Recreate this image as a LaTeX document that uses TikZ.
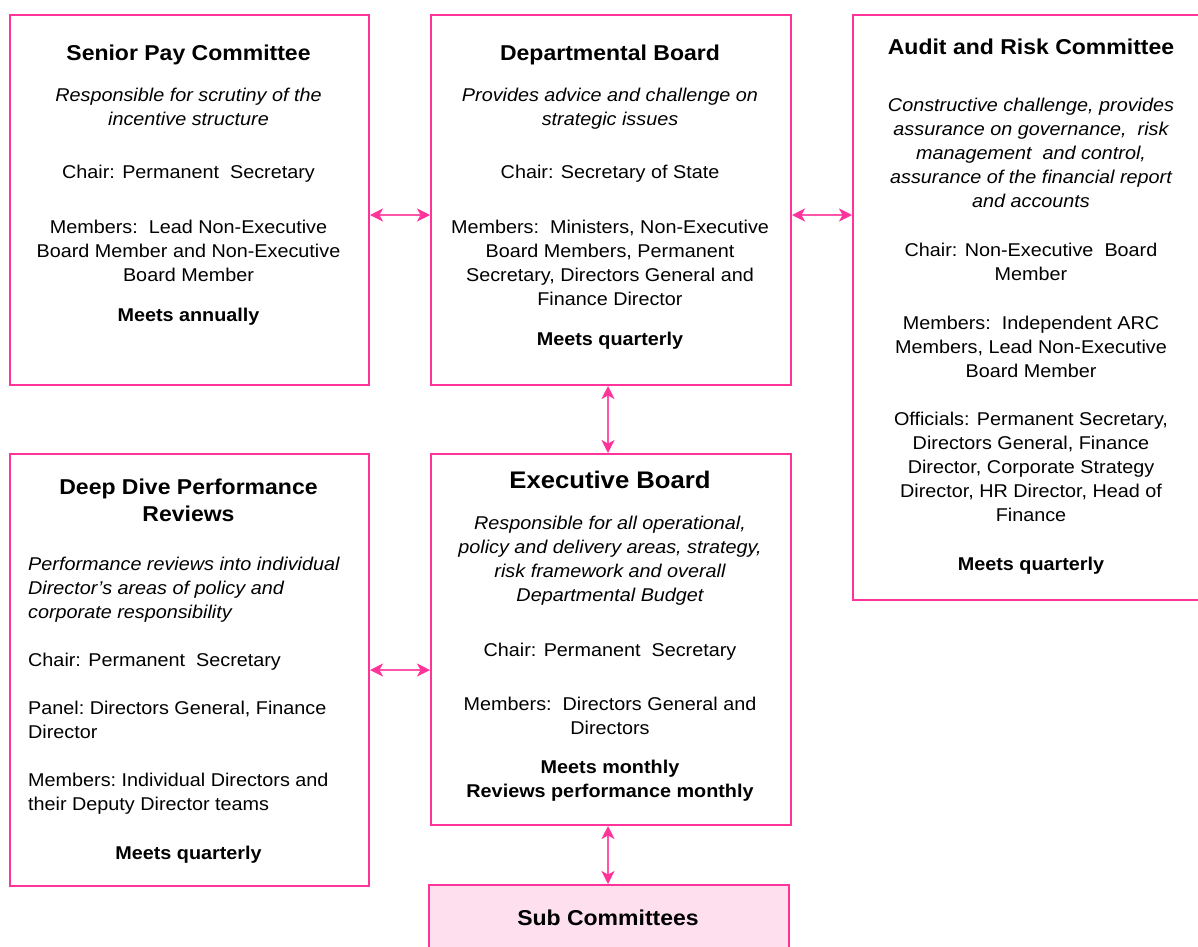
\documentclass[tikz,border=0pt]{standalone}
\usepackage{fontspec}
\setmainfont{Liberation Sans}[FakeStretch=1.07]
\usetikzlibrary{arrows.meta}
\definecolor{boxpink}{RGB}{255,51,153}
\definecolor{arrpink}{RGB}{255,85,170}
\definecolor{subfill}{RGB}{253,223,238}
\tikzset{
  box/.style={draw=boxpink, line width=2pt, rectangle, inner sep=0pt, anchor=north west},
  body/.style={inner sep=0pt, align=center, anchor=north, font=\fontsize{18.5}{24}\selectfont},
  bodyl/.style={inner sep=0pt, align=left, anchor=north west, font=\fontsize{18.5}{24}\selectfont},
  ital/.style={body, font=\fontsize{18.5}{24}\selectfont\itshape},
  itall/.style={bodyl, font=\fontsize{18.5}{24}\selectfont\itshape},
  meets/.style={body, font=\fontsize{18.5}{24}\selectfont\bfseries},
  ttl/.style={inner sep=0pt, align=center, anchor=north, font=\fontsize{21.5}{27}\selectfont\bfseries},
  conn/.style={draw=arrpink, line width=1.6pt, {Stealth[length=13pt,width=13pt,inset=3.5pt,color=boxpink]}-{Stealth[length=13pt,width=13pt,inset=3.5pt,color=boxpink]}},
}
\begin{document}
\begin{tikzpicture}[x=1pt,y=-1pt]
\useasboundingbox (0,0) rectangle (1198,946);
\clip (0,0) rectangle (1198,946);

% boxes
\node[box, minimum width=359pt, minimum height=370pt] (sp) at (9,14) {};
\node[box, minimum width=360pt, minimum height=370pt] (db) at (430,14) {};
\node[box, minimum width=360pt, minimum height=585pt] (arc) at (852,14) {};
\node[box, minimum width=359pt, minimum height=432pt] (dd) at (9,453) {};
\node[box, minimum width=360pt, minimum height=371pt] (eb) at (430,453) {};
\node[box, fill=subfill, minimum width=360pt, minimum height=80pt] (sc) at (428,884) {};

% Senior Pay Committee
\node[ttl] (spt) at (188.5,45) {Senior Pay Committee};
\node[ital] (spi) at (188.5,88) {Responsible for scrutiny of the\\incentive structure};
\node[body] (spc) at (188.5,165) {Chair: Permanent\ \ Secretary};
\node[body] (spm) at (188.5,220) {Members:\ \ Lead Non-Executive\\Board Member and Non-Executive\\Board Member};
\node[meets] (spx) at (188.5,308) {Meets annually};

% Departmental Board
\node[ttl] (dbt) at (610,45) {Departmental Board};
\node[ital] (dbi) at (610,88) {Provides advice and challenge on\\strategic issues};
\node[body] (dbc) at (610,165) {Chair: Secretary of State};
\node[body] (dbm) at (610,220) {Members:\ \ Ministers, Non-Executive\\Board Members,\ Permanent\\Secretary, Directors General\ and\\Finance Director};
\node[meets] (dbx) at (610,332) {Meets quarterly};

% Audit and Risk Committee
\node[ttl] (arct) at (1031,39) {Audit and Risk Committee};
\node[ital] (arci) at (1031,98) {Constructive challenge,\ provides\\assurance on governance,\ \ risk\\management\ \ and control,\\assurance of the financial report\\and accounts};
\node[body] (arcc) at (1031,243) {Chair: Non-Executive\ \ Board\\Member};
\node[body] (arcm) at (1031,316) {Members:\ \ Independent\ ARC\\Members,\ Lead Non-Executive\\Board Member};
\node[body] (arco) at (1031,412) {Officials: Permanent Secretary,\\Directors General,\ Finance\\Director, Corporate Strategy\\Director, HR Director, Head\ of\\Finance};
\node[meets] (arcx) at (1031,557) {Meets quarterly};

% Deep Dive Performance Reviews
\node[ttl] (ddt) at (188.5,479) {Deep Dive Performance\\Reviews};
\node[itall] (ddi) at (28,557) {Performance reviews into individual\\Director’s areas of policy and\\corporate responsibility};
\node[bodyl] (ddc) at (28,653) {Chair: Permanent\ \ Secretary};
\node[bodyl] (ddp) at (28,701) {Panel:\ Directors General,\ Finance\\Director};
\node[bodyl] (ddm) at (28,773) {Members:\ Individual\ Directors and\\their Deputy\ Director teams};
\node[meets] (ddx) at (188.5,846) {Meets quarterly};

% Executive Board
\node[ttl, font=\fontsize{24}{28}\selectfont\bfseries] (ebt) at (610,471) {Executive Board};
\node[ital] (ebi) at (610,516) {Responsible for all operational,\\policy and\ delivery areas,\ strategy,\\risk framework and\ overall\\Departmental Budget};
\node[body] (ebc) at (610,643) {Chair: Permanent\ \ Secretary};
\node[body] (ebm) at (610,697) {Members:\ \ Directors General and\\Directors};
\node[meets] (ebx) at (610,760) {Meets monthly\\Reviews performance monthly};

% Sub Committees
\node[ttl] (sct) at (608,910) {Sub Committees};

% connectors
\coordinate (h1) at (0,215);
\coordinate (h2) at (0,670);
\coordinate (v1) at (608,0);
\draw[conn] (sp.east |- h1) -- (db.west |- h1);
\draw[conn] (db.east |- h1) -- (arc.west |- h1);
\draw[conn] (dd.east |- h2) -- (eb.west |- h2);
\draw[conn] (db.south -| v1) -- (eb.north -| v1);
\draw[conn] (eb.south -| v1) -- (sc.north -| v1);
\end{tikzpicture}
\end{document}
